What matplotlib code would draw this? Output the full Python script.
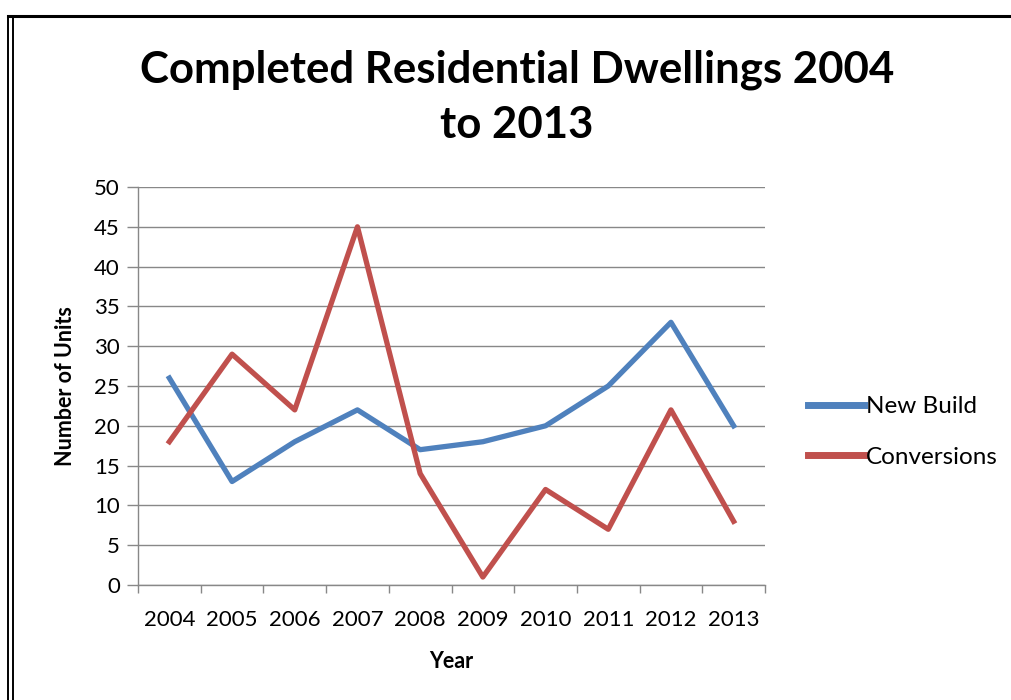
import numpy as np
import matplotlib.pyplot as plt
from matplotlib.lines import Line2D

# Datos del gráfico
anios = ['2004', '2005', '2006', '2007', '2008', '2009', '2010', '2011', '2012', '2013']
new_build = [26, 13, 18, 22, 17, 18, 20, 25, 33, 20]
conversions = [18, 29, 22, 45, 14, 1, 12, 7, 22, 8]

plt.rcParams['font.family'] = ['Lato', 'DejaVu Sans']

fig = plt.figure(figsize=(10.11, 7), dpi=100)
ax = fig.add_axes([138/1011, 115/700, 627/1011, 398/700])

x = np.arange(len(anios))
ax.plot(x, new_build, color='#4F81BD', lw=3.8, label='New Build')
ax.plot(x, conversions, color='#C0504D', lw=3.8, label='Conversions')

# Ejes y rejilla
ax.set_xlim(-0.5, len(anios) - 0.5)
ax.set_ylim(0, 50)
ax.set_yticks(range(0, 51, 5))
ax.set_xticks(x)
ax.set_xticklabels(anios)
ax.set_xticks(np.arange(-0.5, len(anios), 1), minor=True)
ax.tick_params(axis='x', which='major', length=0, pad=18, labelsize=16)
ax.tick_params(axis='x', which='minor', length=6, color='#888888', width=1)
ax.tick_params(axis='y', length=8, color='#888888', width=1, labelsize=16, pad=5)
ax.grid(axis='y', color='#888888', lw=1)
ax.set_axisbelow(True)
for s in ['top', 'right']:
   ax.spines[s].set_visible(False)
for s in ['left', 'bottom']:
   ax.spines[s].set_color('#888888')
   ax.spines[s].set_linewidth(1)

ax.set_xlabel('Year', fontsize=15.5, fontweight='bold', labelpad=15)
ax.set_ylabel('Number of Units', fontsize=15.5, fontweight='bold', labelpad=13)

fig.text(517/1011, 1 - 97/700, 'Completed Residential Dwellings 2004\nto 2013',
         ha='center', va='center', fontsize=31.5, fontweight='bold', linespacing=1.45)

# Leyenda
handles = [Line2D([], [], color='#4F81BD', lw=5), Line2D([], [], color='#C0504D', lw=5)]
fig.legend(handles, ['New Build', 'Conversions'], loc='center left',
           bbox_to_anchor=(786/1011, 1 - 432/700), frameon=False, fontsize=17.5,
           handlelength=2.3, handletextpad=0.1, labelspacing=1.2)

# Marco de la página
fig.add_artist(Line2D([8/1011, 1], [1 - 16/700, 1 - 16/700], color='black', lw=2.2))
fig.add_artist(Line2D([8/1011, 8/1011], [0, 1 - 16/700], color='black', lw=1.4))
fig.add_artist(Line2D([12.5/1011, 12.5/1011], [0, 1 - 17/700], color='black', lw=1.4))

fig.savefig('out.png', dpi=100)
